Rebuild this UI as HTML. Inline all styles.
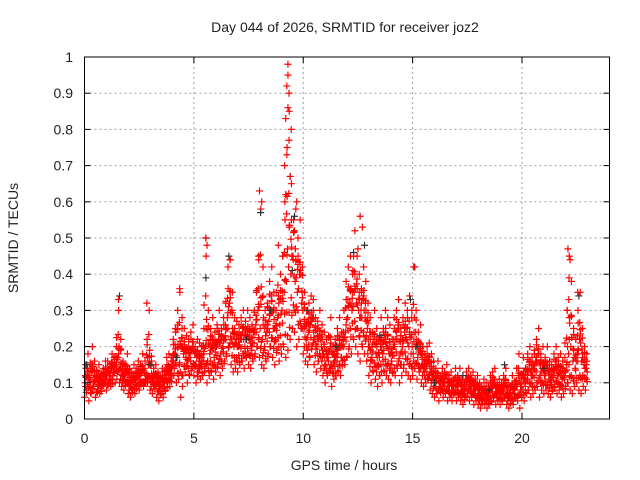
<!DOCTYPE html>
<html><head><meta charset="utf-8"><style>
body{margin:0;background:#fff}
svg{display:block;font-family:"Liberation Sans",sans-serif}
</style></head><body>
<svg id="chart" width="640" height="480" viewBox="0 0 640 480" xmlns="http://www.w3.org/2000/svg">
<rect width="640" height="480" fill="#fff"/>
<text x="345" y="32" font-size="14" fill="#222" text-anchor="middle">Day 044 of 2026, SRMTID for receiver joz2</text>
<g id="grid"></g>
<g id="pts"></g>
<g id="axes"></g>
<text x="344" y="470" font-size="14" fill="#222" text-anchor="middle">GPS time / hours</text>
<text x="0" y="0" font-size="14" fill="#222" text-anchor="middle" transform="translate(18,238) rotate(-90)">SRMTID / TECUs</text>
</svg>
<script>
const xTicks=[0,5,10,15,20];
const yTicks=[0,0.1,0.2,0.3,0.4,0.5,0.6,0.7,0.8,0.9,1];
const yTickLabels=["0","0.1","0.2","0.3","0.4","0.5","0.6","0.7","0.8","0.9","1"];
const timeStep=0.1;
const redLow=[.06,.08,.05,.07,.09,.06,.08,.07,.09,.1,.08,.1,.09,.12,.1,.13,.1,.09,.08,.1,.07,.06,.08,.07,.09,.08,.1,.09,.1,.12,.08,.07,.09,.06,.05,.07,.06,.08,.1,.09,.12,.14,.1,.11,.06,.12,.13,.1,.12,.14,.12,.1,.13,.11,.12,.14,.1,.12,.13,.11,.13,.15,.12,.14,.16,.18,.2,.15,.13,.14,.13,.15,.16,.14,.17,.15,.14,.16,.18,.2,.17,.15,.14,.16,.18,.2,.17,.15,.19,.16,.18,.2,.17,.19,.22,.25,.24,.2,.22,.25,.18,.16,.15,.17,.2,.15,.13,.16,.14,.12,.1,.12,.14,.09,.11,.12,.13,.12,.16,.15,.17,.2,.18,.22,.2,.18,.16,.2,.18,.16,.12,.1,.13,.11,.09,.12,.1,.13,.12,.11,.1,.13,.12,.14,.1,.12,.15,.13,.12,.11,.12,.14,.11,.13,.1,.09,.1,.11,.08,.07,.06,.07,.05,.08,.06,.07,.05,.06,.05,.07,.05,.06,.05,.04,.06,.07,.05,.06,.04,.05,.04,.03,.05,.04,.03,.04,.05,.06,.04,.05,.04,.05,.06,.04,.03,.05,.04,.06,.05,.03,.06,.05,.07,.08,.06,.07,.08,.09,.06,.08,.07,.08,.07,.06,.08,.09,.07,.08,.06,.07,.09,.1,.08,.07,.09,.1,.08,.07,.09,.08];
const redMid=[.1,.12,.11,.13,.1,.12,.09,.11,.1,.12,.12,.11,.14,.13,.15,.17,.14,.12,.11,.13,.1,.09,.11,.1,.12,.11,.13,.1,.11,.15,.11,.1,.12,.1,.09,.11,.1,.12,.13,.12,.16,.18,.17,.15,.2,.18,.17,.16,.18,.2,.15,.17,.16,.15,.18,.2,.16,.18,.2,.17,.2,.22,.18,.2,.23,.28,.32,.22,.2,.21,.2,.22,.24,.2,.23,.22,.2,.24,.26,.3,.25,.22,.2,.24,.27,.3,.25,.22,.28,.26,.3,.35,.38,.42,.4,.45,.38,.35,.4,.32,.25,.22,.24,.26,.28,.22,.2,.23,.2,.18,.15,.17,.2,.14,.16,.18,.2,.17,.22,.24,.28,.32,.3,.35,.32,.3,.28,.33,.28,.25,.2,.17,.22,.18,.15,.2,.18,.22,.2,.18,.16,.2,.22,.25,.18,.2,.24,.22,.2,.18,.18,.2,.17,.19,.15,.14,.15,.16,.13,.12,.1,.12,.09,.11,.1,.12,.09,.1,.08,.11,.09,.1,.08,.07,.1,.11,.09,.1,.08,.09,.07,.06,.08,.07,.06,.08,.09,.1,.07,.08,.07,.08,.1,.07,.06,.09,.07,.1,.12,.08,.12,.1,.13,.15,.12,.14,.16,.18,.12,.14,.12,.14,.11,.1,.13,.15,.12,.13,.11,.12,.15,.18,.2,.16,.14,.18,.22,.16,.15,.14];
const redHigh=[.15,.18,.14,.2,.16,.13,.15,.12,.14,.16,.16,.15,.18,.17,.2,.3,.22,.16,.15,.18,.14,.13,.15,.14,.16,.15,.18,.14,.22,.3,.16,.14,.15,.13,.12,.14,.13,.17,.18,.16,.22,.25,.3,.35,.28,.25,.23,.22,.24,.26,.2,.22,.21,.2,.25,.45,.3,.25,.28,.24,.26,.3,.25,.28,.32,.42,.44,.35,.28,.27,.26,.28,.3,.27,.3,.28,.26,.3,.35,.45,.58,.42,.3,.32,.38,.42,.35,.3,.48,.4,.45,.6,.75,.85,.65,.55,.58,.5,.55,.42,.35,.3,.32,.34,.33,.28,.27,.3,.26,.24,.22,.23,.28,.2,.22,.25,.28,.24,.3,.38,.42,.45,.4,.52,.45,.4,.36,.42,.38,.32,.28,.24,.3,.25,.22,.28,.25,.3,.28,.26,.22,.28,.3,.33,.25,.28,.32,.3,.34,.28,.42,.3,.24,.26,.2,.18,.2,.21,.18,.16,.14,.16,.12,.14,.13,.15,.12,.13,.11,.14,.12,.14,.11,.1,.13,.14,.12,.13,.11,.12,.1,.09,.11,.1,.09,.12,.13,.14,.1,.11,.1,.12,.14,.1,.09,.12,.1,.14,.18,.12,.17,.14,.18,.2,.17,.19,.22,.25,.18,.2,.17,.2,.16,.15,.18,.2,.17,.18,.16,.17,.3,.45,.38,.25,.22,.3,.35,.25,.2,.18];
const peakT=[9.3,9.3,9.25,9.35,9.3,9.2,9.35,9.25,9.4,9.2,8.0,8.1,12.6,12.7,5.55,5.6,22.1,22.2,22.15,15.05,15.1,1.55,2.85,4.35,6.65,9.7,9.6,12.5,12.3,22.55,9.15,9.45];
const peakV=[.98,.95,.92,.9,.86,.83,.77,.73,.67,.62,.63,.6,.56,.53,.5,.48,.47,.44,.39,.42,.42,.33,.32,.36,.44,.6,.52,.47,.45,.35,.7,.8];
const blackT=[5.55,5.55,6.6,8.05,9.4,9.5,9.6,12.3,12.8,14.9,15.2,22.6,1.6,0.1,3.0,17.3,19.2,13.5,10.2,7.4,21,16,8.5,11.5,4.2,18.5];
const blackV=[.5,.39,.45,.57,.67,.41,.56,.46,.48,.33,.2,.34,.34,.15,.15,.12,.15,.23,.3,.22,.14,.1,.3,.2,.17,.08];

const X0=84.5,X1=609.5,Y0=419,Y1=57,XMAX=24;
const sx=t=>X0+t/XMAX*(X1-X0);
const sy=v=>Y0-v*(Y0-Y1);
const NS="http://www.w3.org/2000/svg";
function mk(tag,attrs,parent){const e=document.createElementNS(NS,tag);for(const k in attrs)e.setAttribute(k,attrs[k]);parent.appendChild(e);return e;}
const grid=document.getElementById('grid'),axes=document.getElementById('axes'),pts=document.getElementById('pts');
yTicks.forEach((v,i)=>{
  const y=sy(v);
  if(i>0&&i<yTicks.length-1){const g=mk('line',{x1:X0,x2:X1,y1:y,y2:y,stroke:'#a0a0a0','stroke-width':1,'stroke-dasharray':'2,3'},grid);
  
  }
  mk('line',{x1:X0,x2:X0+6,y1:y,y2:y,stroke:'#000'},axes);
  mk('line',{x1:X1-6,x2:X1,y1:y,y2:y,stroke:'#000'},axes);
  const t=mk('text',{x:73,y:y+5,'font-size':14,fill:'#222','text-anchor':'end'},axes);
  
  
  t.textContent=yTickLabels[i];
});
xTicks.forEach(v=>{
  const x=sx(v);
  if(v>0){const g=mk('line',{x1:x,x2:x,y1:Y1,y2:Y0,stroke:'#a0a0a0','stroke-width':1,'stroke-dasharray':'2,3'},grid);
  
  }
  mk('line',{x1:x,x2:x,y1:Y0,y2:Y0-6,stroke:'#000'},axes);
  mk('line',{x1:x,x2:x,y1:Y1,y2:Y1+6,stroke:'#000'},axes);
  const t=mk('text',{x:x,y:443,'font-size':14,fill:'#222','text-anchor':'middle'},axes);
  
  
  t.textContent=String(v);
});
const frame=mk('rect',{x:X0,y:Y1,width:X1-X0,height:Y0-Y1,fill:'none',stroke:'#000','stroke-width':1},axes);


function plus(t,v,color){
  const x=sx(t),y=sy(v);
  const p=mk('path',{d:`M${x-3.5},${y}h7M${x},${y-3.5}v7`,stroke:color,'stroke-width':1.2,fill:'none'},pts);
  
  
}
const bands=[redLow,redMid,redHigh];
bands.forEach((arr,b)=>{
  arr.forEach((v,i)=>{
    plus(i*timeStep+b*0.03,v,'#f00');
    const other=bands[(b+1)%3];
    const j=Math.min(i+1,arr.length-1);
    plus(i*timeStep+0.05+b*0.015,(v+other[j])/2,'#f00');
    plus(i*timeStep+0.08-b*0.02,(2*v+other[Math.max(i-1,0)])/3,'#f00');
  });
});
blackT.forEach((t,i)=>plus(t,blackV[i],'#333'));
peakT.forEach((t,i)=>plus(t,peakV[i],'#f00'));
</script>
</body></html>
